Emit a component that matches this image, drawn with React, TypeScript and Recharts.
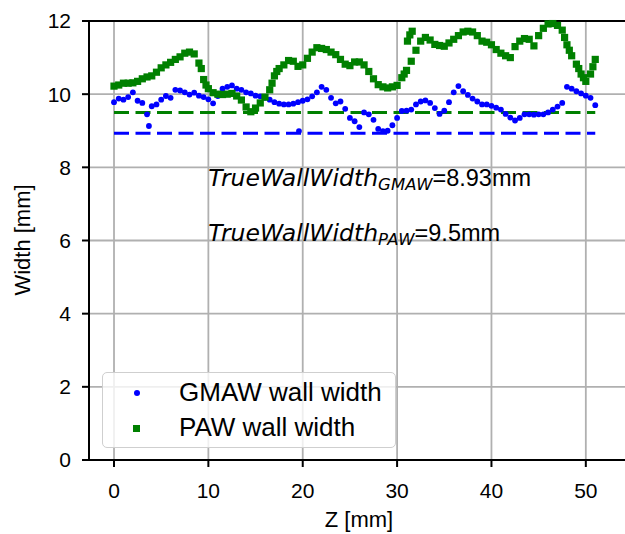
import React from 'react';
import {
    ScatterChart,
    Scatter,
    XAxis,
    YAxis,
    CartesianGrid,
    ReferenceLine,
    ReferenceDot,
    Legend
} from 'recharts';

const gmawZ = [
    0, 0.5, 1, 1.5, 2, 2.5, 3, 3.5, 3.7, 4, 4.5, 5, 5.5, 6, 6.5, 7, 7.5, 8, 8.5, 9, 9.5,
    10, 10.5, 11, 11.5, 12, 12.5, 13, 13.5, 14, 14.5, 15, 15.5, 16, 16.5, 17, 17.5, 18, 18.5,
    19, 19.5, 19.6, 20, 20.5, 21, 21.5, 22, 22.5, 23, 23.5, 24, 24.5, 25, 25.5, 26, 26.5, 27,
    27.5, 28, 28.5, 29, 29.5, 30, 30.5, 31, 31.5, 32, 32.5, 33, 33.5, 34, 34.5, 35, 35.5, 36,
    36.5, 37, 37.5, 38, 38.5, 39, 39.5, 40, 40.5, 41, 41.5, 42, 42.5, 43, 43.5, 44, 44.5, 45,
    45.5, 46, 46.5, 47, 47.5, 48, 48.5, 49, 49.5, 50, 50.5, 51
];
const gmawWidth = [
    9.78, 9.88, 9.85, 9.92, 10.05, 9.82, 9.76, 9.45, 9.13, 9.67, 9.72, 9.85, 9.95, 9.9, 10.12,
    10.1, 10.05, 9.99, 10.04, 9.96, 9.92, 9.86, 9.75, 9.95, 10.15, 10.2, 10.24, 10.15, 10.12,
    10.05, 10.02, 9.96, 9.94, 9.9, 9.85, 9.78, 9.74, 9.72, 9.72, 9.74, 9.78, 8.99, 9.82, 9.86,
    9.94, 10.05, 10.2, 10.12, 9.9, 9.75, 9.8, 9.6, 9.35, 9.26, 9.1, 9.5, 9.45, 9.3, 9.05, 8.99,
    9.0, 9.15, 9.35, 9.54, 9.55, 9.58, 9.72, 9.8, 9.83, 9.76, 9.62, 9.46, 9.55, 9.78, 10.05,
    10.22, 10.08, 9.98, 9.88, 9.8, 9.72, 9.72, 9.68, 9.63, 9.58, 9.46, 9.36, 9.28, 9.35, 9.45,
    9.45, 9.44, 9.45, 9.45, 9.5, 9.58, 9.66, 9.76, 10.2, 10.15, 10.08, 10.02, 9.96, 9.9, 9.7
];

// PAW measured wall width
const pawZ = [
    0, 0.5, 1, 1.5, 2, 2.5, 3, 3.5, 4, 4.5, 5, 5.5, 6, 6.5, 7, 7.5, 8, 8.5, 9, 9.25, 9.5,
    9.75, 10, 10.5, 11, 11.5, 12, 12.5, 13, 13.5, 14, 14.5, 15, 15.5, 16, 16.5, 16.75, 17,
    17.25, 17.5, 18, 18.5, 19, 19.5, 20, 20.5, 21, 21.5, 22, 22.5, 23, 23.5, 24, 24.5, 25,
    25.5, 26, 26.5, 27, 27.5, 28, 28.5, 29, 29.5, 30, 30.5, 30.75, 31, 31.1, 31.35, 31.6,
    31.5, 32, 32.5, 33, 33.5, 34, 34.5, 35, 35.5, 36, 36.5, 37, 37.5, 38, 38.5, 39, 39.5, 40,
    40.5, 41, 41.5, 42, 42.5, 43, 43.5, 44, 44.5, 45, 45.5, 46, 46.5, 47, 47.5, 47.75, 48,
    48.25, 48.5, 49, 49.25, 49.5, 49.75, 50, 50.5, 50.75, 51
];
const pawWidth = [
    10.22, 10.25, 10.3, 10.3, 10.31, 10.35, 10.42, 10.47, 10.5, 10.6, 10.72, 10.8, 10.87,
    10.95, 11.02, 11.12, 11.15, 11.1, 10.85, 10.7, 10.4, 10.25, 10.15, 10.04, 10.0, 9.99,
    10.0, 10.02, 9.95, 9.84, 9.65, 9.52, 9.62, 9.76, 9.92, 10.12, 10.3, 10.5, 10.62, 10.7,
    10.8, 10.92, 10.9, 10.76, 10.8, 10.98, 11.15, 11.27, 11.25, 11.22, 11.15, 11.08, 10.95,
    10.82, 10.78, 10.88, 10.88, 10.8, 10.62, 10.42, 10.26, 10.2, 10.17, 10.2, 10.24, 10.45,
    10.55, 10.65, 11.45, 11.62, 11.72, 10.9, 11.2, 11.45, 11.55, 11.48, 11.36, 11.33, 11.31,
    11.4, 11.5, 11.6, 11.7, 11.72, 11.7, 11.6, 11.45, 11.42, 11.35, 11.22, 11.12, 11.05, 11.0,
    11.3, 11.45, 11.52, 11.5, 11.32, 11.6, 11.8, 11.92, 11.93, 11.88, 11.75, 11.55, 11.35,
    11.2, 11.05, 10.82, 10.7, 10.55, 10.45, 10.35, 10.55, 10.75, 10.95
];

// true wall widths (dashed lines) and their span
const trueWidthGmaw = 8.93;
const trueWidthPaw = 9.5;
const trueWidthSpan = [0, 51];

const xTicks = [0, 10, 20, 30, 40, 50];
const yTicks = [0, 2, 4, 6, 8, 10, 12];

const BLUE = '#0000ff';
const GREEN = '#008000';
const FONT = '"Liberation Sans", Arial, sans-serif';
const MATH_FONT = '"DejaVu Sans", sans-serif';

const gmawData = gmawZ.map((z, i) => ({ z, w: gmawWidth[i] }));
const pawData = pawZ.map((z, i) => ({ z, w: pawWidth[i] }));

const BlueDot = (props: any) => <circle cx={props.cx} cy={props.cy} r={2.9} fill={BLUE} />;
const GreenSquare = (props: any) => (
    <rect x={props.cx - 3.6} y={props.cy - 3.6} width={7.2} height={7.2} fill={GREEN} />
);

const annotation = (sub: string, value: number) => (props: any) => {
    const { x, y } = props.viewBox;
    return (
        <text x={x} y={y} fontSize={23.5} fill="#000">
            <tspan fontFamily={MATH_FONT} fontStyle="italic">TrueWallWidth</tspan>
            <tspan fontFamily={MATH_FONT} fontStyle="italic" fontSize={16.5} dy={4.5}>{sub}</tspan>
            <tspan fontFamily={FONT} dy={-4.5}>={value}mm</tspan>
        </text>
    );
};

const renderLegend = (props: any) => {
    const items = props.payload || [];
    return (
        <div style={{
            width: 294, height: 76, boxSizing: 'border-box',
            border: '1.5px solid #cfcfcf', borderRadius: 5,
            background: 'rgba(255,255,255,0.8)', position: 'relative'
        }}>
            {items.map((item: any, i: number) => (
                <div key={item.value} style={{ position: 'absolute', left: 0, top: 4 + i * 35, height: 35, width: '100%' }}>
                    {i === 0 ? (
                        <span style={{ position: 'absolute', left: 31, top: 13, width: 6, height: 6, borderRadius: 3, background: BLUE }} />
                    ) : (
                        <span style={{ position: 'absolute', left: 30, top: 13, width: 7, height: 7, background: GREEN }} />
                    )}
                    <span style={{ position: 'absolute', left: 76, top: 0, fontFamily: FONT, fontSize: 26, lineHeight: '30px', color: '#000' }}>
                        {item.value}
                    </span>
                </div>
            ))}
        </div>
    );
};

export default function App() {
    return (
        <div style={{ position: 'absolute', left: 0, top: 0, width: 625, height: 534, overflow: 'hidden', background: '#fff' }}>
            <ScatterChart width={633} height={534} margin={{ top: 21, right: 0, bottom: 0, left: 0 }}>
                <CartesianGrid stroke="#b0b0b0" strokeWidth={1.8} />
                <XAxis
                    type="number"
                    dataKey="z"
                    domain={[-2.65, 55]}
                    ticks={xTicks}
                    allowDataOverflow
                    height={74}
                    tickSize={7}
                    tickMargin={16}
                    tick={{ fill: '#000', fontSize: 21, fontFamily: FONT }}
                    tickLine={{ stroke: '#000', strokeWidth: 2 }}
                    axisLine={{ stroke: '#000', strokeWidth: 2 }}
                    label={{
                        content: () => (
                            <text x={359} y={527} textAnchor="middle" fontSize={22} fontFamily={FONT} fill="#000">Z [mm]</text>
                        )
                    }}
                />
                <YAxis
                    type="number"
                    dataKey="w"
                    domain={[0, 12]}
                    ticks={yTicks}
                    width={89}
                    tickSize={7}
                    tickMargin={11}
                    tick={{ fill: '#000', fontSize: 21, fontFamily: FONT }}
                    tickLine={{ stroke: '#000', strokeWidth: 2 }}
                    axisLine={{ stroke: '#000', strokeWidth: 2 }}
                    label={{
                        content: () => (
                            <text x={22} y={240} transform="rotate(-90 22 240)" textAnchor="middle"
                                dominantBaseline="central" fontSize={22} fontFamily={FONT} fill="#000">Width [mm]</text>
                        )
                    }}
                />
                <ReferenceLine y={12} stroke="#000" strokeWidth={2} />
                <Scatter name="GMAW wall width" data={gmawData} fill={BLUE} shape={BlueDot} isAnimationActive={false} />
                <Scatter name="PAW wall width" data={pawData} fill={GREEN} shape={GreenSquare} isAnimationActive={false} />
                <ReferenceLine
                    segment={[{ x: trueWidthSpan[0], y: trueWidthGmaw }, { x: trueWidthSpan[1], y: trueWidthGmaw }]}
                    stroke={BLUE} strokeWidth={3} strokeDasharray="15 6.5"
                />
                <ReferenceLine
                    segment={[{ x: trueWidthSpan[0], y: trueWidthPaw }, { x: trueWidthSpan[1], y: trueWidthPaw }]}
                    stroke={GREEN} strokeWidth={3} strokeDasharray="15 6.5"
                />
                <ReferenceDot x={10} y={7.5} r={0} fill="none" stroke="none" label={{ content: annotation('GMAW', trueWidthGmaw) }} />
                <ReferenceDot x={10} y={6} r={0} fill="none" stroke="none" label={{ content: annotation('PAW', trueWidthPaw) }} />
                <Legend
                    layout="horizontal"
                    verticalAlign="middle"
                    align="center"
                    content={renderLegend}
                    wrapperStyle={{ left: 102, top: 372, width: 294, height: 76 }}
                />
            </ScatterChart>
        </div>
    );
}
